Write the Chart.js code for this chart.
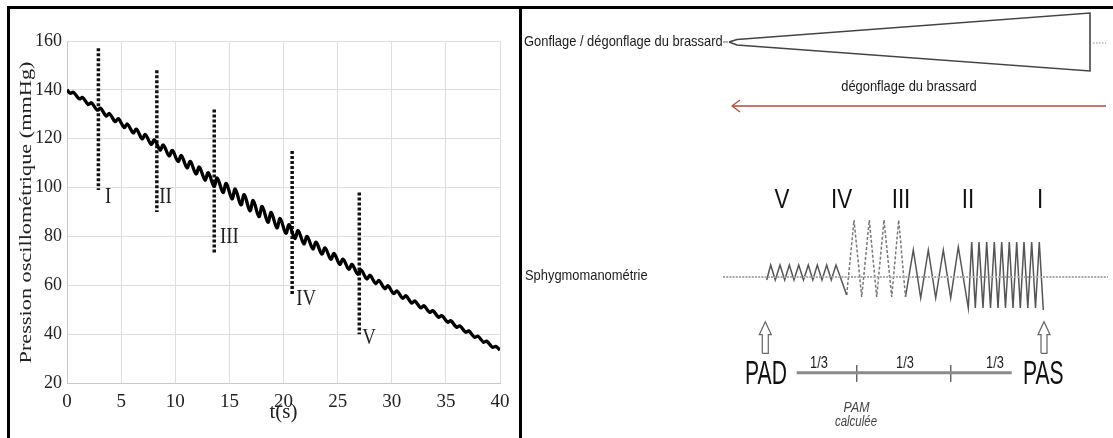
<!DOCTYPE html>
<html>
<head>
<meta charset="utf-8">
<script src="https://cdn.jsdelivr.net/npm/chart.js@4/dist/chart.umd.min.js"></script>
<style>
html, body { margin: 0; padding: 0; background: #fff; }
#wrap { position: relative; width: 1113px; height: 438px; overflow: hidden; }
#left { position: absolute; left: 0; top: 0; }
#right { position: absolute; left: 523px; top: 0; }
.bar { position: absolute; background: #000; }
</style>
</head>
<body>
<div id="wrap">
  <canvas id="left" width="519" height="438"></canvas>
  <canvas id="right" width="590" height="438"></canvas>
  <div class="bar" style="left:7px;top:6px;width:3px;height:432px"></div>
  <div class="bar" style="left:7px;top:6px;width:1106px;height:3px"></div>
  <div class="bar" style="left:519px;top:6px;width:3px;height:432px"></div>
</div>
<script>
// ---- left plot: cuff pressure during deflation (mmHg vs s) ----
var beatTime = [0.30, 1.13, 1.96, 2.79, 3.62, 4.45, 5.28, 6.11, 6.94, 7.77, 8.60, 9.43,
  10.26, 11.09, 11.92, 12.75, 13.58, 14.41, 15.24, 16.07, 16.90, 17.73, 18.56, 19.39,
  20.22, 21.05, 21.88, 22.71, 23.54, 24.37, 25.20, 26.03, 26.86, 27.69, 28.52, 29.35,
  30.18, 31.01, 31.84, 32.67, 33.50, 34.33, 35.16, 35.99, 36.82, 37.65, 38.48, 39.31];
var troughP = [138.6, 136.3, 134.0, 131.7, 129.3, 127.0, 124.6, 122.4, 120.0, 117.7, 115.4, 113.0,
  110.7, 108.1, 105.6, 103.1, 100.5, 98.0, 95.4, 92.9, 90.5, 88.1, 85.8, 83.5,
  81.3, 79.2, 77.0, 74.9, 72.8, 70.7, 68.6, 66.6, 64.6, 62.6, 60.7, 58.6,
  56.6, 54.7, 52.7, 50.8, 48.9, 46.9, 44.9, 42.8, 40.8, 38.7, 36.7, 34.6];
var peakP = [139.0, 136.9, 134.7, 132.5, 130.3, 128.2, 126.0, 123.9, 121.7, 119.5, 117.4, 115.2,
  113.1, 110.7, 108.4, 106.1, 103.9, 101.7, 99.4, 97.1, 94.7, 92.3, 89.8, 87.3,
  84.8, 82.4, 80.0, 77.6, 75.3, 73.0, 70.7, 68.5, 66.3, 64.1, 62.0, 59.8,
  57.7, 55.7, 53.6, 51.6, 49.6, 47.6, 45.5, 43.4, 41.3, 39.2, 37.1, 35.0];
var startP = 140, endP = 33.5, endT = 40;
var peakDelay = 0.3;

var markerNames = ['I', 'II', 'III', 'IV', 'V'];
var markerT = [2.9, 8.3, 13.6, 20.8, 27.0];
var markerTop = [157, 148, 132, 115, 98];
var markerBottom = [99, 90, 73, 56, 40];
var markerLabelT = [3.8, 9.1, 15.0, 22.1, 27.9];
var markerLabelP = [96, 96, 79.5, 54.5, 38.5];
var yTitle = 'Pression oscillométrique (mmHg)';

// ---- right diagram (schematic units, y relative to dotted baseline) ----
var wedgeX = [206, 214, 567, 567, 214, 206];
var wedgeY = [235, 232, 206, 264, 237.5, 235];
var deflX = [583, 209];
var deflY = [171, 171];
var chevronX = [217, 209, 217];
var chevronY = [177, 171, 165];
var baseX = [200, 585];
var waveVX = [243.7, 247.7, 252.3, 257, 261.7, 266.3, 271, 275.7, 280.5, 285.3, 289.8, 294.3, 299, 303.7, 308.3, 313, 323.7];
var waveVY = [-3, 12, -3, 12, -3, 12, -3, 12, -3, 12, -3, 12, -3, 12, -3, 12, -18];
var waveIVX = [323.7, 331, 338.7, 346.3, 353.7, 361, 368.7, 375.7, 382.5];
var waveIVY = [-18, 57, -20, 57, -20, 57, -20, 57, -20];
var waveIIX = [382.5, 390.3, 397.7, 405.3, 412.7, 420.3, 427.7, 435.3, 445.3, 448.7, 452.3, 456, 460, 463.7,
  467.5, 471.3, 475, 478.7, 482.5, 486.3, 490, 493.7, 497.3, 501, 504.8, 508.7, 512.5, 516.3, 520.3];
var waveIIY = [-20, 27, -21, 27, -21, 27, -21, 30, -31, 35, -31, 35, -31, 35, -31, 35, -31, 35, -31, 35,
  -31, 35, -31, 35, -31, 35, -31, 35, -33];
var phaseNames = ['V', 'IV', 'III', 'II', 'I'];
var phaseX = [259, 318.7, 378, 445, 517];
var phaseY = 77;
var arrowX = [242.3, 521];
var arrowTipY = -44.7, arrowBaseY = -76.3;
var endNames = ['PAD', 'PAS'];
var endX = [243, 520.3];
var endY = -97.7;
var scaleLineX = [273.7, 488.7];
var scaleLineY = -95.7;
var thirdTickX = [333.7, 427.7];
var thirdX = [296, 382, 472];
var thirdY = -86.3;

function pts(xs, ys) {
  return xs.map(function (x, i) { return { x: x, y: Array.isArray(ys) ? ys[i] : ys }; });
}

var curve = [{ x: 0, y: startP }];
beatTime.forEach(function (t, i) {
  curve.push({ x: t, y: troughP[i] });
  curve.push({ x: t + peakDelay, y: peakP[i] });
});
curve.push({ x: endT, y: endP });

var SERIF = '"Liberation Serif", "Times New Roman", serif';
var SANS = '"Liberation Sans", Arial, sans-serif';

var leftSets = [{
  data: curve, borderColor: '#000', borderWidth: 3.3, tension: 0.35, pointRadius: 0
}];
markerT.forEach(function (t, i) {
  leftSets.push({
    data: [{ x: t, y: markerTop[i] }, { x: t, y: markerBottom[i] }],
    borderColor: '#111', borderWidth: 3.5, borderDash: [3, 2], pointRadius: 0
  });
});

// phase labels and the (tall, narrow) y title of the figure
var leftText = {
  id: 'leftText',
  afterDatasetsDraw: function (chart) {
    var ctx = chart.ctx, xs = chart.scales.x, ys = chart.scales.y;
    ctx.save();
    ctx.fillStyle = '#222';
    ctx.textAlign = 'center';
    ctx.textBaseline = 'middle';
    ctx.font = '21px ' + SERIF;
    markerNames.forEach(function (n, i) {
      var px = xs.getPixelForValue(markerLabelT[i]), py = ys.getPixelForValue(markerLabelP[i]);
      ctx.save();
      ctx.translate(px, py);
      ctx.scale(0.9, 1.05);
      ctx.fillText(n, 0, 0);
      ctx.restore();
    });
    ctx.font = '16px ' + SERIF;
    ctx.translate(ys.left + 27, (ys.top + ys.bottom) / 2 + 0.5);
    ctx.rotate(-Math.PI / 2);
    ctx.scale(302 / ctx.measureText(yTitle).width, 1);
    ctx.fillText(yTitle, 0, 0);
    ctx.restore();
  }
};

new Chart(document.getElementById('left'), {
  type: 'line',
  data: { datasets: leftSets },
  options: {
    responsive: false, animation: false, devicePixelRatio: 1,
    layout: { padding: { left: 0, right: 19, top: 41, bottom: 0 } },
    plugins: { legend: { display: false }, tooltip: { enabled: false } },
    scales: {
      x: {
        type: 'linear', min: 0, max: 40,
        afterFit: function (s) { s.height = 55; },
        grid: { color: '#dedede', drawTicks: false },
        border: { color: '#c8c8c8' },
        ticks: { stepSize: 5, padding: 8, color: '#222', font: { family: SERIF, size: 19 } },
        title: { display: true, text: 't(s)', color: '#222', padding: { top: 0, bottom: 13 }, font: { family: SERIF, size: 21 } }
      },
      y: {
        min: 20, max: 160,
        afterFit: function (s) { s.width = 67; },
        grid: { color: '#dedede', drawTicks: false },
        border: { color: '#c8c8c8' },
        ticks: { stepSize: 20, padding: 5, color: '#222', font: { family: SERIF, size: 18 } },
        title: { display: false }
      }
    }
  },
  plugins: [leftText]
});

// ---- right diagram ----
function arrowShape(cx) {
  var hw = 6, sw = 3, hh = 13;
  return [
    { x: cx - sw, y: arrowBaseY }, { x: cx - sw, y: arrowTipY - hh }, { x: cx - hw, y: arrowTipY - hh },
    { x: cx, y: arrowTipY }, { x: cx + hw, y: arrowTipY - hh }, { x: cx + sw, y: arrowTipY - hh },
    { x: cx + sw, y: arrowBaseY }, { x: cx - sw, y: arrowBaseY }
  ];
}

var line = function (data, color, width, dash) {
  return { data: data, showLine: true, borderColor: color, borderWidth: width, borderDash: dash || [], pointRadius: 0, fill: false };
};

var rightSets = [
  line(pts(wedgeX, wedgeY), '#444', 1.6),
  line(pts([200, 205], 235), '#666', 1),
  line(pts([570, 583], 234), '#888', 1.2, [1.5, 1.5]),
  line(pts(deflX, deflY), '#b04a38', 1.6),
  line(pts(chevronX, chevronY), '#b04a38', 1.2),
  line(pts(baseX, 0), '#a8a8a8', 2, [2, 1.2]),
  line(pts(waveVX, waveVY), '#555', 1.5),
  line(pts(waveIVX, waveIVY), '#777', 1.5, [3, 2]),
  line(pts(waveIIX, waveIIY), '#555', 1.5),
  line(pts(scaleLineX, scaleLineY), '#8a8a8a', 3),
  line(arrowShape(arrowX[0]), '#666', 1.2),
  line(arrowShape(arrowX[1]), '#666', 1.2)
];
thirdTickX.forEach(function (x) {
  rightSets.push(line(pts([x, x], [-88, -104.7]), '#666', 1));
});

var diagramText = {
  id: 'diagramText',
  afterDatasetsDraw: function (chart) {
    var ctx = chart.ctx, xs = chart.scales.x, ys = chart.scales.y;
    // narrow (condensed) lettering as in the figure: squeeze horizontally
    function txt(s, x, y, font, sx, align, color) {
      ctx.save();
      ctx.font = font;
      ctx.textAlign = align || 'center';
      ctx.textBaseline = 'middle';
      ctx.fillStyle = color || '#111';
      ctx.translate(xs.getPixelForValue(x), ys.getPixelForValue(y));
      ctx.scale(sx, 1);
      ctx.fillText(s, 0, 0);
      ctx.restore();
    }
    txt('Gonflage / dégonflage du brassard', 1, 235.3, '15px ' + SANS, 0.86, 'left', '#1a1a1a');
    txt('dégonflage du brassard', 386, 189.7, '15px ' + SANS, 0.86, 'center', '#1a1a1a');
    txt('Sphygmomanométrie', 2, 1, '15px ' + SANS, 0.86, 'left', '#1a1a1a');
    phaseNames.forEach(function (n, i) { txt(n, phaseX[i], phaseY, '28px ' + SANS, 0.8); });
    endNames.forEach(function (n, i) { txt(n, endX[i], endY, '33px ' + SANS, 0.64); });
    thirdX.forEach(function (x) { txt('1/3', x, thirdY, '16px ' + SANS, 0.8, 'center', '#222'); });
    txt('PAM', 333.5, -131.3, 'italic 14px ' + SANS, 0.88, 'center', '#444');
    txt('calculée', 333, -144.7, 'italic 14px ' + SANS, 0.82, 'center', '#444');
  }
};

new Chart(document.getElementById('right'), {
  type: 'scatter',
  data: { datasets: rightSets },
  options: {
    responsive: false, animation: false, devicePixelRatio: 1,
    layout: { padding: 0 },
    plugins: { legend: { display: false }, tooltip: { enabled: false } },
    scales: {
      x: { type: 'linear', min: 0, max: 590, display: false },
      y: { type: 'linear', min: -161, max: 277, display: false }
    }
  },
  plugins: [diagramText]
});
</script>
</body>
</html>
